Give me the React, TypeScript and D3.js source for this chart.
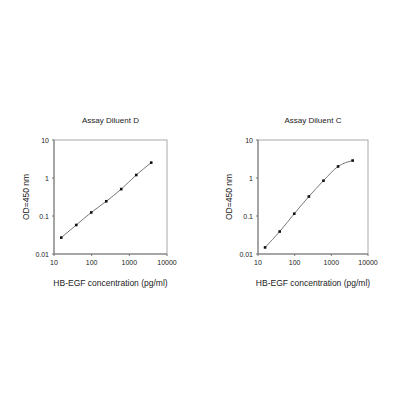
import React from "react";
import * as d3 from "d3";

const conc = [15.6, 39, 97.5, 244, 610, 1526, 3815];
const odDiluentD = [0.027, 0.058, 0.124, 0.244, 0.51, 1.2, 2.54];
const odDiluentC = [0.0149, 0.039, 0.115, 0.326, 0.85, 2.01, 2.88];
const xTicks = [10, 100, 1000, 10000];
const yTicks = [0.01, 0.1, 1, 10];

const font = "Liberation Sans, Arial, sans-serif";

function Panel({ title, values, left, right, top, bottom, ylabelX }: any) {
  const x = d3.scaleLog().domain([10, 10000]).range([left, right]);
  const y = d3.scaleLog().domain([0.01, 10]).range([bottom, top]);
  const pts = conc.map((c, i) => [x(c), y(values[i])] as [number, number]);
  const line = d3.line().curve(d3.curveMonotoneX)(pts) as string;
  const cx = (left + right) / 2;
  const cy = (top + bottom) / 2;
  return (
    <g fontFamily={font} fill="#222">
      <text x={cx} y={123} fontSize={8} textAnchor="middle">{title}</text>
      <rect x={left} y={top} width={right - left} height={bottom - top} fill="none" stroke="#aaa" strokeWidth={1} />
      <line x1={left} x2={left} y1={top} y2={bottom} stroke="#777" />
      <line x1={left} x2={right} y1={bottom} y2={bottom} stroke="#777" />
      {yTicks.map((t) => (
        <g key={"y" + t}>
          <line x1={left - 2} x2={left} y1={y(t)} y2={y(t)} stroke="#777" />
          <text x={left - 5} y={y(t) + 2.5} fontSize={7} textAnchor="end">{d3.format("~g")(t)}</text>
        </g>
      ))}
      {xTicks.map((t) => (
        <g key={"x" + t}>
          <line x1={x(t)} x2={x(t)} y1={bottom} y2={bottom + 2} stroke="#777" />
          <text x={x(t)} y={bottom + 11} fontSize={7} textAnchor="middle">{t}</text>
        </g>
      ))}
      <path d={line} fill="none" stroke="#777" strokeWidth={1} />
      {pts.map((p, i) => (
        <rect key={i} x={p[0] - 1.3} y={p[1] - 1.3} width={2.6} height={2.6} fill="#111" />
      ))}
      <text x={cx} y={286} fontSize={8.5} textAnchor="middle">HB-EGF concentration (pg/ml)</text>
      <text transform={`translate(${ylabelX},${cy}) rotate(-90)`} fontSize={8.5} textAnchor="middle">OD=450 nm</text>
    </g>
  );
}

export default function App() {
  return (
    <svg width={400} height={400} style={{ position: "absolute", left: 0, top: 0, background: "#fff" }}>
      <rect width={400} height={400} fill="#fff" />
      <Panel title="Assay Diluent D" values={odDiluentD} left={54} right={167} top={140} bottom={254} ylabelX={29} />
      <Panel title="Assay Diluent C" values={odDiluentC} left={258} right={368} top={140} bottom={254} ylabelX={232} />
    </svg>
  );
}
